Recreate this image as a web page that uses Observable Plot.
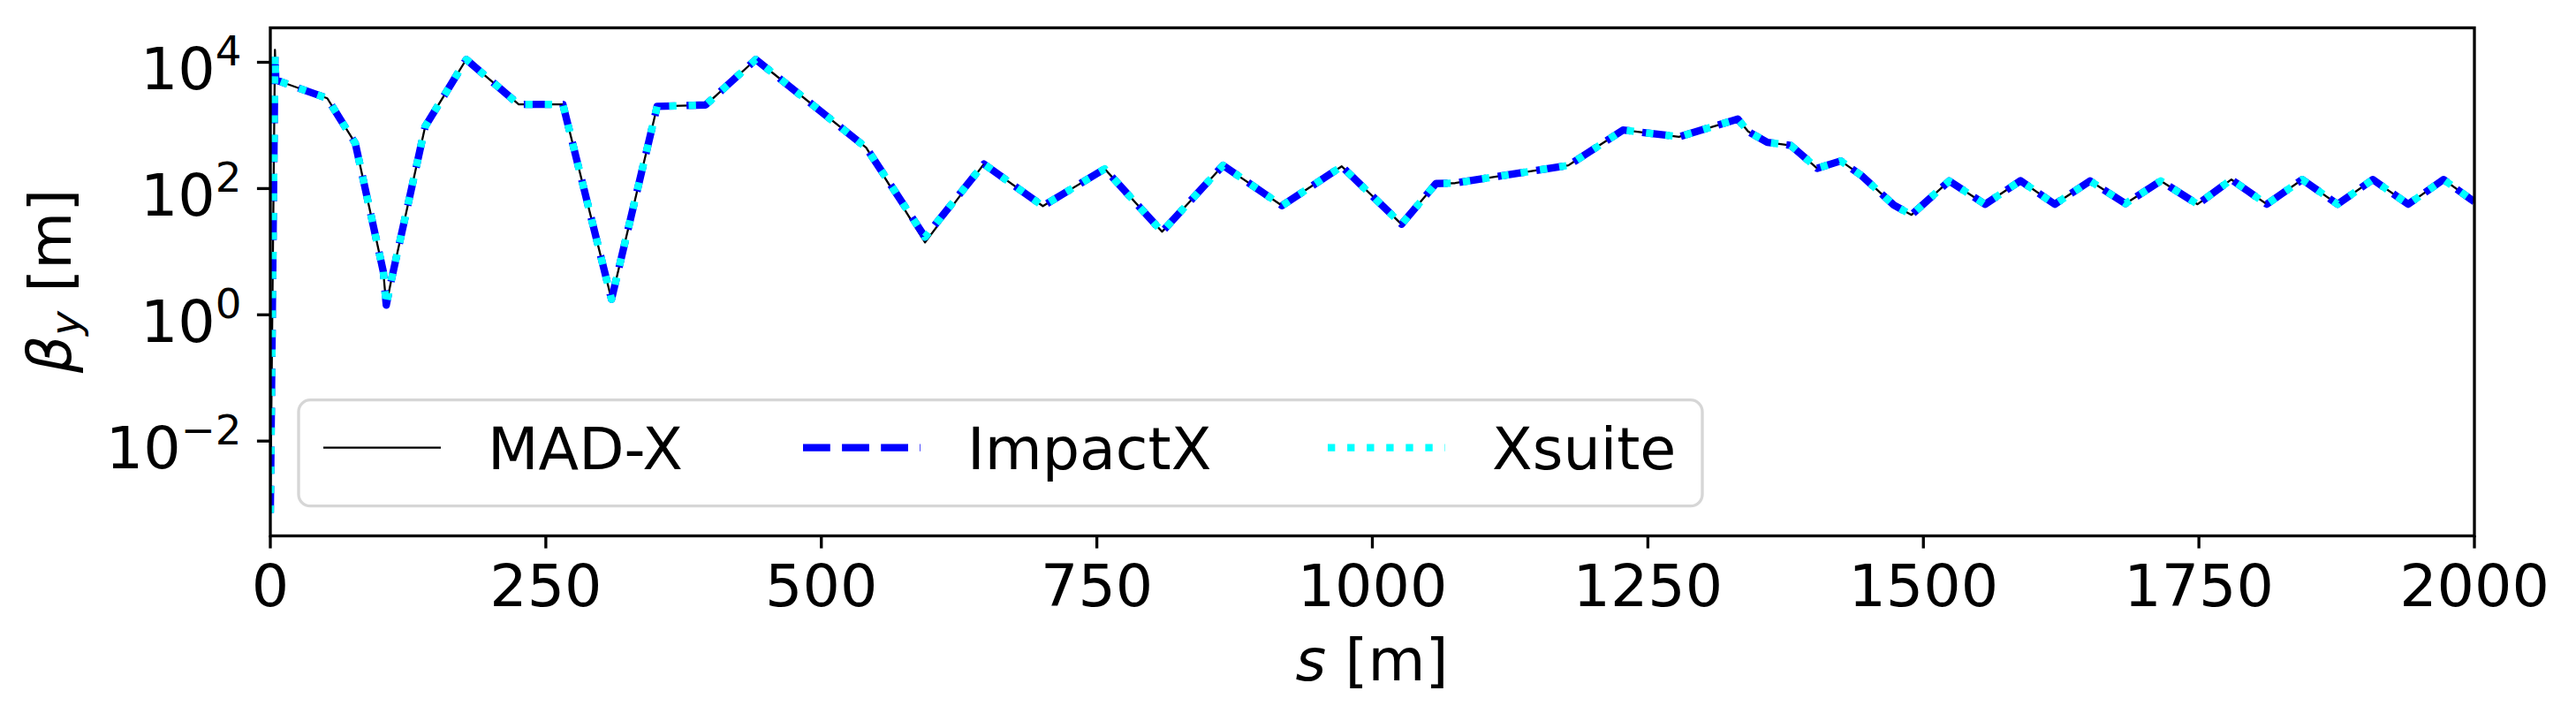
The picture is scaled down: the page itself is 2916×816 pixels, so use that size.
<!DOCTYPE html>
<html>
<head>
<meta charset="utf-8">
<script src="https://cdn.jsdelivr.net/npm/d3@7"></script>
<script src="https://cdn.jsdelivr.net/npm/@observablehq/plot@0.6"></script>
<style>
html, body { margin: 0; padding: 0; background: #fff; overflow: hidden; }
svg { display: block; }
</style>
</head>
<body>
<div id="chart"></div>
<script>
// ---- data ----
const s = [0, 4.2, 5.0, 51.7, 77.1, 102.5, 105.2, 109.2, 140.5, 177.8, 225.4, 265.5, 309.6, 351, 395,
  440.5, 540.7, 594.1, 647.5, 701.0, 757.1, 809.2, 864.5, 918.0, 972.2, 1026.5, 1057.7, 1075.1,
  1177.9, 1227.4, 1278.2, 1331.6, 1341, 1358.4, 1379.7, 1403.7, 1425, 1444, 1473.2, 1489.2,
  1523.4, 1556, 1588.1, 1619.2, 1651.3, 1683.4, 1715.4, 1748.8, 1779.5, 1811.6, 1843.7,
  1875.8, 1907.8, 1939.9, 1972, 2000];

const betaMadx = [7.3e-4, 15700, 5250, 2690, 521, 4.86, 1.42, 3.17, 962, 11100, 2150, 2150, 1.76, 2000, 2110,
  11100, 444, 14.0, 245, 52.8, 205, 20.7, 233, 53.5, 225, 27.2, 120, 122,
  233, 845, 661, 1260, 802, 538, 483, 209, 274, 160, 54.6, 38.3,
  132, 56.4, 133, 56.4, 132, 57.7, 132, 56.4, 139, 56.4, 139,
  56.4, 139, 56.4, 139, 61.7];

const betaImpactx = [7.3e-4, 13000, 5250, 2690, 521, 4.86, 1.42, 3.17, 962, 11100, 2150, 2150, 1.76, 2000, 2110,
  11100, 444, 17.0, 245, 52.8, 205, 20.7, 233, 53.5, 225, 27.2, 120, 122,
  233, 845, 661, 1260, 802, 538, 483, 209, 274, 160, 54.6, 38.3,
  132, 56.4, 133, 56.4, 132, 57.7, 132, 56.4, 139, 56.4, 139,
  56.4, 139, 56.4, 139, 61.7];

const betaXsuite = [7.3e-4, 13000, 5250, 2690, 521, 4.86, 1.42, 3.17, 962, 11100, 2150, 2150, 1.76, 2000, 2110,
  11100, 444, 17.0, 245, 52.8, 205, 20.7, 233, 53.5, 225, 27.2, 120, 122,
  233, 845, 661, 1260, 802, 538, 483, 209, 274, 160, 54.6, 38.3,
  132, 56.4, 133, 56.4, 132, 57.7, 132, 56.4, 139, 56.4, 139,
  56.4, 139, 56.4, 139, 61.7];

const seriesNames = ["MAD-X", "ImpactX", "Xsuite"];
const xTicks = [0, 250, 500, 750, 1000, 1250, 1500, 1750, 2000];
const yTicks = [1e-2, 1, 1e2, 1e4];
const yTickExponents = ["\u22122", "0", "2", "4"];

// ---- styles ----
const FONT = 66.7;
const styles = [
  {stroke: "black", strokeWidth: 2.3, dash: null, cap: "square"},
  {stroke: "blue", strokeWidth: 8.33, dash: "30.8,13.3", cap: "butt"},
  {stroke: "cyan", strokeWidth: 8.33, dash: "8.33,13.75", cap: "butt"}
];

const toRows = (vals, name) => s.map((v, i) => ({s: v, beta: vals[i], code: name}));
const datasets = [toRows(betaMadx, seriesNames[0]), toRows(betaImpactx, seriesNames[1]), toRows(betaXsuite, seriesNames[2])];

const lineMarks = datasets.map((d, i) => Plot.lineY(d, {
  x: "s", y: "beta",
  stroke: styles[i].stroke,
  strokeWidth: styles[i].strokeWidth,
  strokeDasharray: styles[i].dash || undefined,
  strokeLinecap: styles[i].cap,
  strokeLinejoin: "round",
  clip: true
}));

const chart = Plot.plot({
  width: 2916,
  height: 816,
  marginLeft: 305.5,
  marginRight: 115.5,
  marginTop: 31,
  marginBottom: 210,
  style: {fontFamily: "'DejaVu Sans', sans-serif", fontSize: FONT + "px", background: "white", color: "black"},
  x: {domain: [0, 2000]},
  y: {type: "log", domain: [Math.pow(10, -3.502), Math.pow(10, 4.546)]},
  marks: [
    ...lineMarks,
    Plot.frame({stroke: "black", strokeWidth: 3.33}),
    Plot.axisX({ticks: xTicks, tickSize: 14.6, tickPadding: 18, strokeWidth: 3.33, fontSize: FONT,
      tickFormat: d => String(d), label: null}),
    Plot.axisY({ticks: yTicks, tickSize: 14.6, tickPadding: 17.9, strokeWidth: 3.33, fontSize: FONT,
      tickFormat: d => "E" + Math.round(Math.log10(d)), label: null})
  ]
});

document.getElementById("chart").appendChild(chart);

// ---- y tick labels as 10^n with superscripts ----
const svg = d3.select(chart);
svg.selectAll('[aria-label="y-axis tick label"] text').each(function() {
  const t = d3.select(this);
  const txt = t.text();
  const n = parseInt(txt.slice(1), 10);
  const idx = yTicks.findIndex(v => Math.round(Math.log10(v)) === n);
  t.text(null);
  t.attr("y", 30.7).attr("dy", null).attr("fill", "black");
  t.append("tspan").text("10");
  t.append("tspan").attr("font-size", 46.7).attr("dy", -27).text(yTickExponents[idx]);
});
svg.selectAll('[aria-label="x-axis tick label"] text').attr("fill", "black");

// ---- axis titles ----
const ylab = svg.append("text")
  .attr("transform", "translate(80,318) rotate(-90)")
  .attr("text-anchor", "middle")
  .attr("font-family", "'DejaVu Sans', sans-serif")
  .attr("font-size", FONT)
  .attr("fill", "black");
ylab.append("tspan").attr("font-style", "italic").text("\u03B2");
ylab.append("tspan").attr("font-style", "italic").attr("font-size", 46.7).attr("dy", 10).text("y");
ylab.append("tspan").attr("dy", -10).text(" [m]");

const xlab = svg.append("text")
  .attr("x", 1553).attr("y", 770)
  .attr("text-anchor", "middle")
  .attr("font-family", "'DejaVu Sans', sans-serif")
  .attr("font-size", FONT)
  .attr("fill", "black");
xlab.append("tspan").attr("font-style", "italic").text("s");
xlab.append("tspan").text(" [m]");

// ---- legend ----
const lg = svg.append("g")
  .attr("font-family", "'DejaVu Sans', sans-serif")
  .attr("font-size", FONT)
  .attr("text-anchor", "start");
lg.append("rect")
  .attr("x", 338).attr("y", 452.7).attr("width", 1589).attr("height", 120).attr("rx", 13.3)
  .attr("fill", "white").attr("fill-opacity", 0.8)
  .attr("stroke", "#cccccc").attr("stroke-opacity", 0.8).attr("stroke-width", 3.33);
const handleX = [366, 909, 1503];
seriesNames.forEach((name, i) => {
  const st = styles[i];
  const ln = lg.append("line")
    .attr("x1", handleX[i]).attr("x2", handleX[i] + 133)
    .attr("y1", 506.7).attr("y2", 506.7)
    .attr("stroke", st.stroke).attr("stroke-width", st.strokeWidth)
    .attr("stroke-linecap", st.cap === "square" ? "butt" : st.cap);
  if (st.dash) ln.attr("stroke-dasharray", st.dash);
  lg.append("text")
    .attr("x", handleX[i] + 133 + 53).attr("y", 530.7)
    .attr("text-anchor", "start")
    .attr("fill", "black").text(name);
});
</script>
</body>
</html>
